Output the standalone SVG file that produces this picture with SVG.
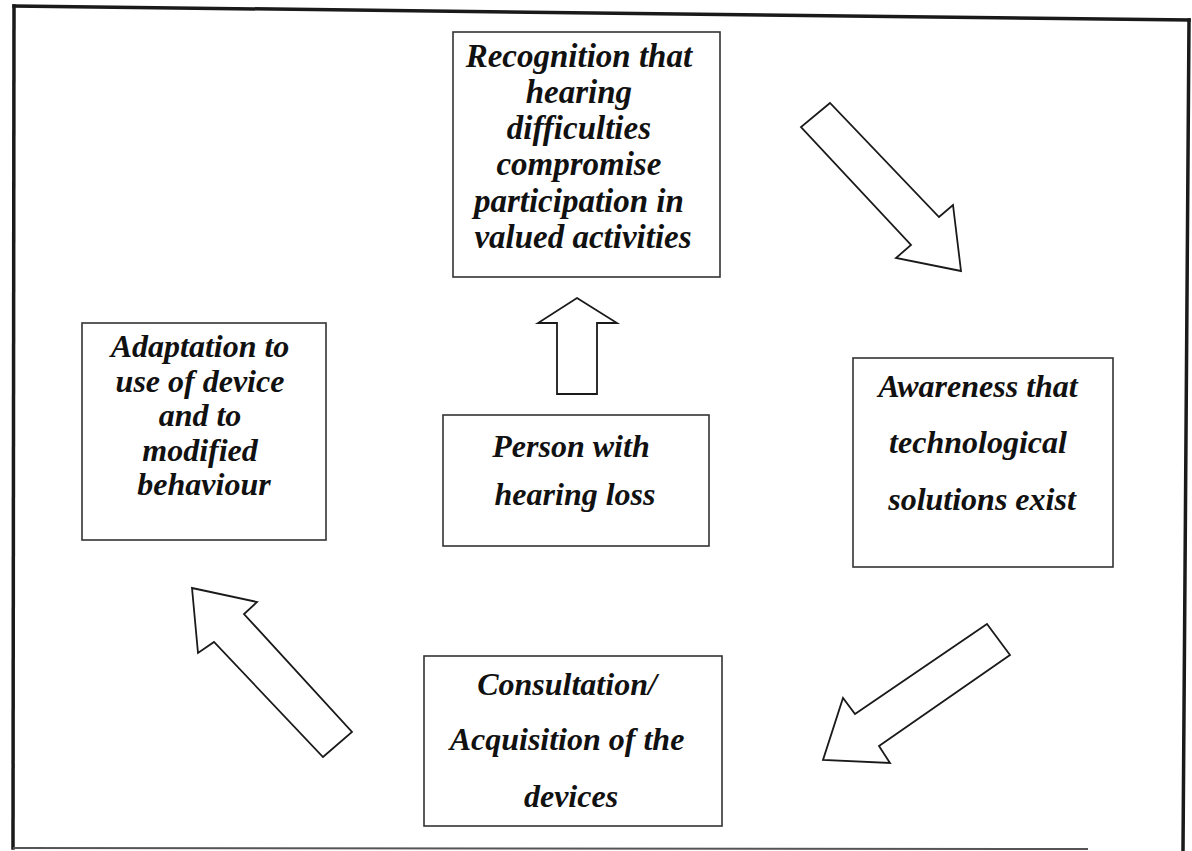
<svg xmlns="http://www.w3.org/2000/svg" width="1192" height="851" viewBox="0 0 1192 851">
  <style>
    .frame { stroke: #1a1a1a; stroke-width: 3.5; fill: none; stroke-linecap: square; }
    .frame-bottom { stroke: #555; stroke-width: 2; fill: none; }
    .box { fill: #fff; stroke: #333; stroke-width: 1.6; }
    .arrow { fill: #fff; stroke: #1a1a1a; stroke-width: 1.8; stroke-linejoin: miter; }
    .label { font-family: "Liberation Serif", "Times New Roman", serif; font-weight: bold; font-style: italic; font-size: 32px; fill: #111; text-anchor: middle; }
    .wide { font-size: 33px; }
  </style>
  <rect width="1192" height="851" fill="#fff"/>

  <!-- page frame -->
  <g id="frame">
    <line class="frame" x1="14" y1="6" x2="1189" y2="20"/>
    <line class="frame" x1="14" y1="6" x2="13" y2="848"/>
    <line class="frame" x1="1189" y1="20" x2="1183" y2="851"/>
    <line class="frame-bottom" x1="13" y1="848" x2="1088" y2="849"/>
  </g>

  <!-- block arrows between the stages -->
  <g id="connectors">
    <polygon class="arrow" points="577,298 617,323 597,323 597,394 557,394 557,323 538,323"/>
    <polygon class="arrow" points="830,103 801,127 911,245 896,258 961,271 953,205 939,217"/>
    <polygon class="arrow" points="987,624 1010,655 879,746 890,763 823,760 843,698 855,714"/>
    <polygon class="arrow" points="192,588 257,602 244,614 352,732 323,757 214,642 198,653"/>
  </g>

  <g id="recognition">
    <rect class="box" x="453" y="32" width="267" height="245"/>
    <text class="label wide">
      <tspan x="583" y="67">Recognition that</tspan>
      <tspan x="583" y="103">hearing</tspan>
      <tspan x="583" y="139">difficulties</tspan>
      <tspan x="583" y="175">compromise</tspan>
      <tspan x="583" y="212">participation in</tspan>
      <tspan x="583" y="248">valued activities</tspan>
    </text>
  </g>

  <g id="adaptation">
    <rect class="box" x="82" y="323" width="244" height="217"/>
    <text class="label">
      <tspan x="204" y="357">Adaptation to</tspan>
      <tspan x="204" y="392">use of device</tspan>
      <tspan x="204" y="426">and to</tspan>
      <tspan x="204" y="461">modified</tspan>
      <tspan x="204" y="495">behaviour</tspan>
    </text>
  </g>

  <g id="person">
    <rect class="box" x="443" y="415" width="266" height="131"/>
    <text class="label">
      <tspan x="575" y="457">Person with</tspan>
      <tspan x="575" y="505">hearing loss</tspan>
    </text>
  </g>

  <g id="awareness">
    <rect class="box" x="853" y="358" width="260" height="209"/>
    <text class="label">
      <tspan x="982" y="397">Awareness that</tspan>
      <tspan x="982" y="453">technological</tspan>
      <tspan x="982" y="510">solutions exist</tspan>
    </text>
  </g>

  <g id="consultation">
    <rect class="box" x="424" y="656" width="298" height="170"/>
    <text class="label">
      <tspan x="571" y="695">Consultation/</tspan>
      <tspan x="571" y="750">Acquisition of the</tspan>
      <tspan x="571" y="807">devices</tspan>
    </text>
  </g>
</svg>
